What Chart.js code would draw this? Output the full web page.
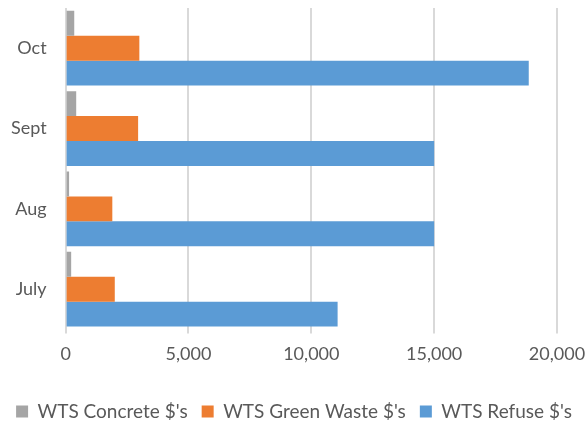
<!DOCTYPE html>
<html>
<head>
<meta charset="utf-8">
<script src="https://cdn.jsdelivr.net/npm/chart.js@4"></script>
<style>
  html, body { margin: 0; padding: 0; background: #fff; }
  #wrap { width: 588px; height: 421px; }
</style>
</head>
<body>
<div id="wrap"><canvas id="barChart" width="588" height="421"></canvas></div>
<script>
// months, top to bottom as drawn
var months = ['Oct', 'Sept', 'Aug', 'July'];
var concrete = [350, 430, 140, 225];
var greenWaste = [3000, 2950, 1900, 2000];
var refuse = [18850, 15000, 15000, 11070];
var xTicks = [0, 5000, 10000, 15000, 20000];

// pulls the legend row a bit lower than chart.js would put it
var legendDrop = {
    id: 'legendDrop',
    beforeLayout: function (chart) {
        var lg = chart.legend;
        if (lg && !lg._dropped) {
            var fit = lg.fit;
            lg.fit = function () { fit.call(this); this.height -= 10; };
            lg._dropped = true;
        }
    }
};

document.addEventListener("DOMContentLoaded", function () {
    var ctx = document.getElementById('barChart').getContext('2d');
    var fam = 'Lato, "Noto Sans", sans-serif';

    new Chart(ctx, {
        type: 'bar',
        data: {
            labels: months,
            datasets: [
                { label: "WTS Concrete $'s", data: concrete, backgroundColor: '#a5a5a5' },
                { label: "WTS Green Waste $'s", data: greenWaste, backgroundColor: '#ed7d31' },
                { label: "WTS Refuse $'s", data: refuse, backgroundColor: '#5b9bd5' }
            ]
        },
        plugins: [legendDrop],
        options: {
            indexAxis: 'y',
            responsive: false,
            animation: false,
            categoryPercentage: 0.93,
            barPercentage: 1.0,
            layout: { padding: { left: 0, right: 0, top: 8, bottom: 0 } },
            plugins: {
                legend: {
                    position: 'bottom',
                    labels: {
                        color: '#595959',
                        font: { family: fam, size: 19 },
                        boxWidth: 12,
                        boxHeight: 12,
                        padding: 14
                    }
                },
                tooltip: { enabled: false }
            },
            scales: {
                x: {
                    min: 0,
                    max: 20000,
                    afterBuildTicks: function (axis) {
                        axis.ticks = xTicks.map(function (v) { return { value: v }; });
                    },
                    afterFit: function (scale) {
                        scale.height += 13;
                        scale.paddingLeft = 0;
                        scale.paddingRight = 31;
                    },
                    grid: { color: '#d9d9d9', lineWidth: 2, tickLength: 4 },
                    border: { display: false },
                    ticks: {
                        color: '#595959',
                        font: { family: fam, size: 18 },
                        padding: 10,
                        callback: function (v) { return v.toLocaleString('en-US'); }
                    }
                },
                y: {
                    afterFit: function (scale) {
                        scale.paddingTop = 0;
                        scale.paddingBottom = 0;
                    },
                    grid: { display: false },
                    border: { display: false },
                    ticks: { color: '#595959', font: { family: fam, size: 18 }, padding: 11 }
                }
            }
        }
    });
});
</script>
</body>
</html>
